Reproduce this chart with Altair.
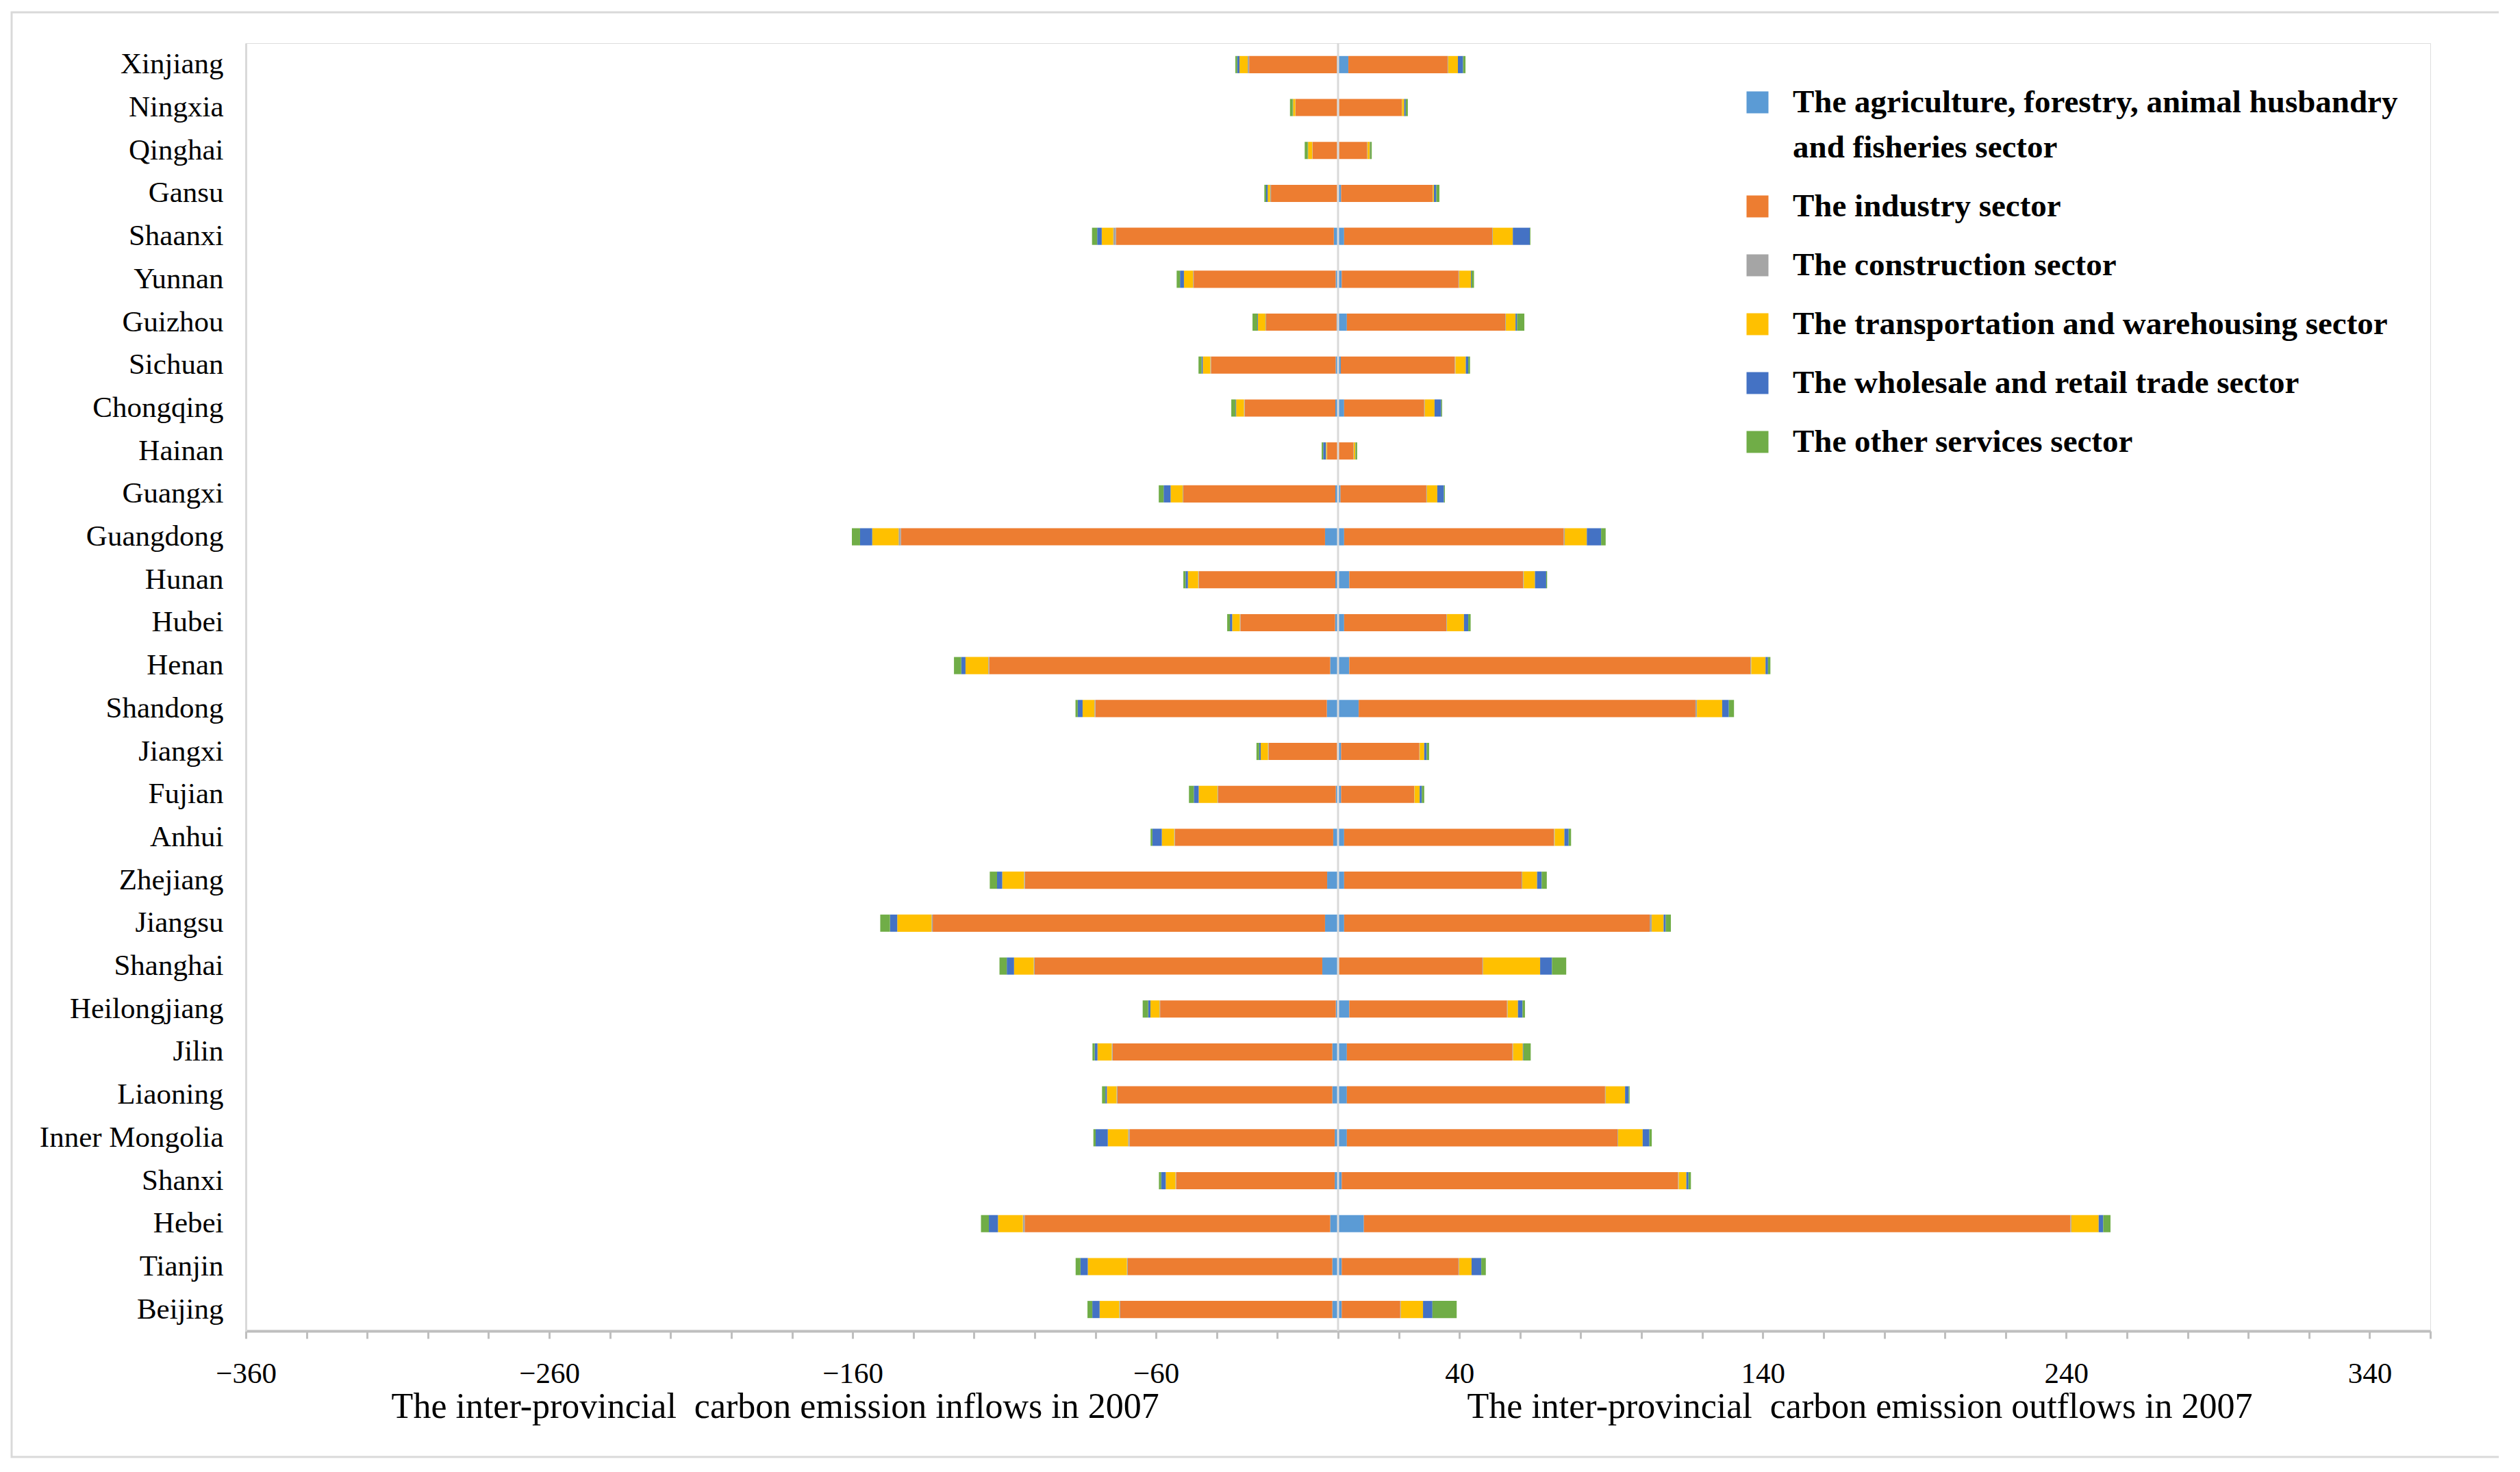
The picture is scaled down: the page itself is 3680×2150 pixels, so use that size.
import altair as alt
import pandas as pd

provinces = ["Xinjiang", "Ningxia", "Qinghai", "Gansu", "Shaanxi", "Yunnan", "Guizhou",
             "Sichuan", "Chongqing", "Hainan", "Guangxi", "Guangdong", "Hunan", "Hubei",
             "Henan", "Shandong", "Jiangxi", "Fujian", "Anhui", "Zhejiang", "Jiangsu",
             "Shanghai", "Heilongjiang", "Jilin", "Liaoning", "Inner Mongolia", "Shanxi",
             "Hebei", "Tianjin", "Beijing"]

sectors = ["The agriculture, forestry, animal husbandry and fisheries sector",
           "The industry sector",
           "The construction sector",
           "The transportation and warehousing sector",
           "The wholesale and retail trade sector",
           "The other services sector"]
colors = ["#5B9BD5", "#ED7D31", "#A5A5A5", "#FFC000", "#4472C4", "#70AD47"]

# inflows (drawn to the left)
agri_in = [0.4, 0.3, 0.3, 0.3, 1.4, 0.8, 0.5, 0.8, 0.9, 0.2, 0.9, 4.3, 0.9, 1.0, 2.6, 3.7, 0.3, 0.75, 1.6, 3.6, 4.3, 5.2, 0.75, 1.9, 1.9, 1.1, 1.1, 2.6, 1.9, 1.9]
ind_in = [28.9, 13.7, 8.1, 21.8, 71.8, 46.8, 23.2, 41.1, 29.9, 3.4, 50.1, 139.8, 45.0, 31.2, 112.4, 76.3, 22.6, 38.8, 52.2, 99.6, 129.3, 94.8, 57.9, 72.4, 70.8, 67.6, 52.3, 100.7, 67.4, 69.9]
con_in = [0.5, 0.1, 0.1, 0.3, 0.9, 0.2, 0.2, 0.2, 0.2, 0.1, 0.2, 0.75, 0.2, 0.2, 0.3, 0.3, 0.2, 0.2, 0.2, 0.3, 0.4, 0.3, 0.2, 0.3, 0.3, 0.5, 0.2, 0.6, 0.3, 0.3]
tra_in = [2.7, 0.75, 1.4, 0.8, 3.8, 3.0, 2.5, 2.5, 2.6, 0.3, 4.0, 8.7, 3.4, 2.5, 7.5, 3.9, 2.4, 6.2, 4.1, 7.2, 11.3, 6.5, 3.0, 4.7, 3.2, 6.7, 3.2, 8.2, 12.9, 6.5]
who_in = [0.75, 0.1, 0.1, 0.5, 1.5, 1.3, 0.2, 0.4, 0.2, 0.9, 2.3, 4.0, 0.75, 0.75, 1.4, 1.6, 0.5, 1.6, 3.1, 1.7, 2.4, 2.4, 0.75, 0.9, 0.5, 4.0, 1.5, 3.0, 2.4, 2.4]
oth_in = [0.6, 0.9, 1.0, 0.6, 1.7, 1.1, 1.6, 1.0, 1.4, 0.5, 1.6, 2.7, 0.75, 0.9, 2.4, 0.75, 0.9, 1.6, 0.6, 2.4, 3.2, 2.4, 1.8, 0.75, 1.1, 0.75, 0.75, 2.6, 1.6, 1.6]

# outflows (drawn to the right)
agri_out = [3.4, 0.3, 0.3, 1.0, 2.0, 1.2, 2.9, 0.9, 2.0, 0.2, 0.8, 2.0, 3.7, 2.0, 3.7, 6.8, 1.0, 1.0, 2.0, 2.0, 2.0, 0.3, 3.7, 2.9, 2.9, 2.9, 1.2, 8.5, 1.2, 1.2]
ind_out = [32.7, 20.7, 9.3, 30.2, 48.8, 38.5, 52.2, 37.6, 26.4, 4.9, 28.3, 72.4, 57.3, 33.7, 132.2, 111.0, 25.8, 24.1, 69.2, 58.5, 100.7, 47.3, 52.0, 54.6, 85.1, 89.2, 110.9, 232.9, 38.5, 19.3]
con_out = [0.2, 0.1, 0.1, 0.1, 0.2, 0.2, 0.2, 0.2, 0.2, 0.1, 0.2, 0.3, 0.2, 0.2, 0.3, 0.5, 0.1, 0.1, 0.2, 0.2, 0.7, 0.2, 0.2, 0.2, 0.2, 0.2, 0.2, 0.3, 0.2, 0.2]
tra_out = [3.2, 0.7, 0.8, 0.3, 6.6, 3.9, 3.2, 3.4, 3.2, 0.5, 3.4, 7.3, 3.7, 5.6, 4.7, 8.3, 1.5, 1.7, 3.2, 4.9, 3.9, 18.8, 3.4, 3.2, 6.4, 8.1, 2.5, 9.0, 4.1, 7.3]
who_out = [1.7, 0.5, 0.1, 0.8, 5.6, 0.2, 0.5, 0.8, 2.2, 0.1, 2.2, 4.7, 3.7, 1.4, 0.8, 2.2, 0.8, 0.7, 1.4, 1.5, 0.7, 3.9, 1.5, 0.2, 1.2, 2.2, 0.7, 1.5, 3.2, 3.1]
oth_out = [0.8, 0.7, 0.5, 1.0, 0.2, 0.8, 2.4, 0.6, 0.3, 0.5, 0.3, 1.5, 0.3, 0.8, 0.8, 1.7, 0.8, 0.8, 0.8, 1.7, 1.7, 4.7, 0.8, 2.4, 0.3, 0.8, 0.8, 2.4, 1.5, 8.0]

tick_values = list(range(-360, 361, 20))
title_in = "The inter-provincial\u00a0 carbon emission inflows in 2007"
title_out = "The inter-provincial\u00a0 carbon emission outflows in 2007"

inflows = [agri_in, ind_in, con_in, tra_in, who_in, oth_in]
outflows = [agri_out, ind_out, con_out, tra_out, who_out, oth_out]

rows = []
for i, p in enumerate(provinces):
    for k, s in enumerate(sectors):
        rows.append({"province": p, "sector": s, "order": k, "value": -inflows[k][i]})
        rows.append({"province": p, "sector": s, "order": k, "value": outflows[k][i]})
df = pd.DataFrame(rows)

W, H = 3190, 1881
FONT = "Liberation Serif"

xscale = alt.Scale(domain=[-360, 360], nice=False, zero=False)

bars = alt.Chart(df).mark_bar().encode(
    x=alt.X("value:Q", scale=xscale,
            axis=alt.Axis(values=tick_values,
                          labelExpr="(datum.value + 360) % 100 == 0 ? datum.label : ''",
                          title=None, grid=False, domainColor="#bfbfbf", domainWidth=4,
                          tickColor="#bfbfbf", tickWidth=3, tickSize=11,
                          labelFont=FONT, labelFontSize=43, labelColor="black",
                          labelPadding=30, labelFlush=False, labelOverlap=False)),
    y=alt.Y("province:N", sort=provinces,
            scale=alt.Scale(paddingInner=0.6, paddingOuter=0.3),
            axis=alt.Axis(title=None, ticks=False, domainColor="#d9d9d9", domainWidth=3,
                          labelFont=FONT, labelFontSize=43, labelColor="black",
                          labelPadding=33, labelLimit=1000)),
    color=alt.Color("sector:N", scale=alt.Scale(domain=sectors, range=colors),
                    legend=alt.Legend(orient="none", legendX=2184, legendY=63, title=None,
                                      symbolType="square", symbolSize=1024, symbolStrokeWidth=0,
                                      labelFont=FONT, labelFontWeight="bold", labelFontSize=47,
                                      labelColor="black", labelLimit=3000, labelOffset=28,
                                      rowPadding=38, padding=0,
                                      labelExpr="datum.label == 'The agriculture, forestry, animal husbandry and fisheries sector' ? ['The agriculture, forestry, animal husbandry', '\u00a0and fisheries sector'] : datum.label")),
    order=alt.Order("order:Q"),
)

zero_rule = alt.Chart(pd.DataFrame({"v": [0]})).mark_rule(color="#d9d9d9", strokeWidth=3).encode(
    x=alt.X("v:Q", scale=xscale)
)

frame = alt.Chart(pd.DataFrame({"a": [1]})).mark_rect(
    fillOpacity=0, stroke="#d9d9d9", strokeWidth=3
).encode(x=alt.value(-342), x2=alt.value(3298), y=alt.value(-45), y2=alt.value(2065))

t_in = alt.Chart(pd.DataFrame({"a": [1]})).mark_text(
    font=FONT, fontSize=52, color="black", baseline="middle", align="center", text=title_in
).encode(x=alt.X(datum=-185.5, type="quantitative", scale=xscale), y=alt.value(1992))

t_out = alt.Chart(pd.DataFrame({"a": [1]})).mark_text(
    font=FONT, fontSize=52, color="black", baseline="middle", align="center", text=title_out
).encode(x=alt.X(datum=172, type="quantitative", scale=xscale), y=alt.value(1992))

chart = alt.layer(frame, bars, zero_rule, t_in, t_out).properties(
    width=W, height=H,
    autosize=alt.AutoSizeParams(type="none"),
    padding={"left": 351, "top": 55, "right": 100, "bottom": 188},
    background="white",
).configure_view(strokeWidth=0).configure(
    font=FONT, style={"guide-label": {"lineHeight": 66}}
)

chart.save("out.html", embed_options={"renderer": "svg", "actions": False})
